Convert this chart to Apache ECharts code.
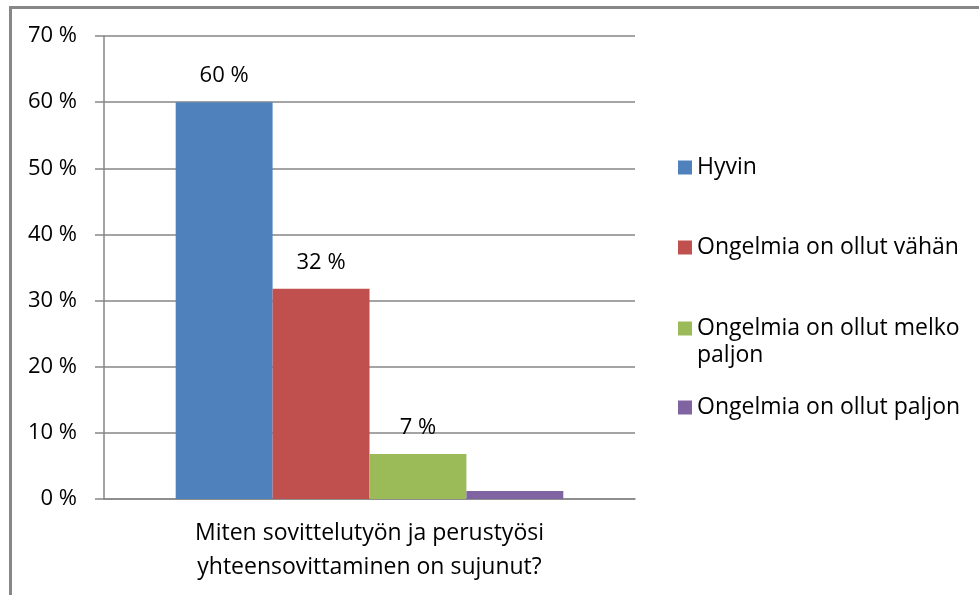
<!DOCTYPE html>
<html>
<head>
<meta charset="utf-8">
<script src="https://cdn.jsdelivr.net/npm/echarts@6/dist/echarts.min.js"></script>
<style>
  html, body { margin: 0; padding: 0; background: #fff; }
  #chart { width: 979px; height: 595px; }
</style>
</head>
<body>
<div id="chart"></div>
<script>
// kysymys ja vastausvaihtoehdot
const categories = ['Miten sovittelutyön ja perustyösi\nyhteensovittaminen on sujunut?'];
const seriesNames = ['Hyvin', 'Ongelmia on ollut vähän', 'Ongelmia on ollut melko paljon', 'Ongelmia on ollut paljon'];
const seriesValues = [60, 31.8, 6.8, 1.2];
const showLabel = [true, true, true, false];
const colors = ['#4F81BD', '#C0504D', '#9BBB59', '#8064A2'];
const yTicks = [0, 10, 20, 30, 40, 50, 60, 70];

const font = 'Open Sans';
const chart = echarts.init(document.getElementById('chart'));

// legend rivit erikseen, koska kolmas nimi rivittyy kahdelle riville
const legendTops = [154, 234, 288, 394];
const legends = seriesNames.map((name, i) => ({
  data: [name],
  orient: 'vertical',
  left: 678,
  top: legendTops[i],
  itemWidth: 14,
  itemHeight: 14,
  itemGap: 0,
  icon: 'rect',
  padding: 0,
  formatter: n => (n === 'Ongelmia on ollut melko paljon' ? '\nOngelmia on ollut melko\npaljon' : n),
  textStyle: { fontFamily: font, fontSize: 23, color: '#000', lineHeight: 27 }
}));

const option = {
  animation: false,
  color: colors,
  grid: { left: 104, right: 344, top: 36, bottom: 96 },
  legend: legends,
  xAxis: {
    type: 'category',
    data: categories,
    axisLine: { lineStyle: { color: '#868686', width: 1.5 } },
    axisTick: { length: 8, lineStyle: { color: '#868686', width: 1.5 } },
    axisLabel: { fontFamily: font, fontSize: 23, color: '#000', lineHeight: 34, margin: 17 }
  },
  yAxis: {
    type: 'value',
    min: yTicks[0],
    max: yTicks[yTicks.length - 1],
    interval: 10,
    axisLine: { show: true, lineStyle: { color: '#868686', width: 1.5 } },
    axisTick: { show: true, inside: false, length: 9, lineStyle: { color: '#868686', width: 1.5 } },
    splitLine: { lineStyle: { color: '#868686', width: 1.5 } },
    axisLabel: { formatter: '{value} %', fontFamily: font, fontSize: 22, color: '#000', margin: 27 }
  },
  series: seriesNames.map((name, i) => ({
    name: name,
    type: 'bar',
    barGap: 0,
    barCategoryGap: '27%',
    itemStyle: { color: colors[i] },
    label: {
      show: showLabel[i],
      position: 'top',
      distance: 15,
      fontFamily: font,
      fontSize: 22,
      color: '#000',
      formatter: p => Math.round(p.value) + ' %'
    },
    data: [seriesValues[i]]
  })),
  graphic: [{
    type: 'rect',
    shape: { x: 10.5, y: 7.5, width: 1200, height: 1200 },
    style: { fill: 'none', stroke: '#878787', lineWidth: 3 },
    silent: true
  }]
};

chart.setOption(option);
</script>
</body>
</html>
